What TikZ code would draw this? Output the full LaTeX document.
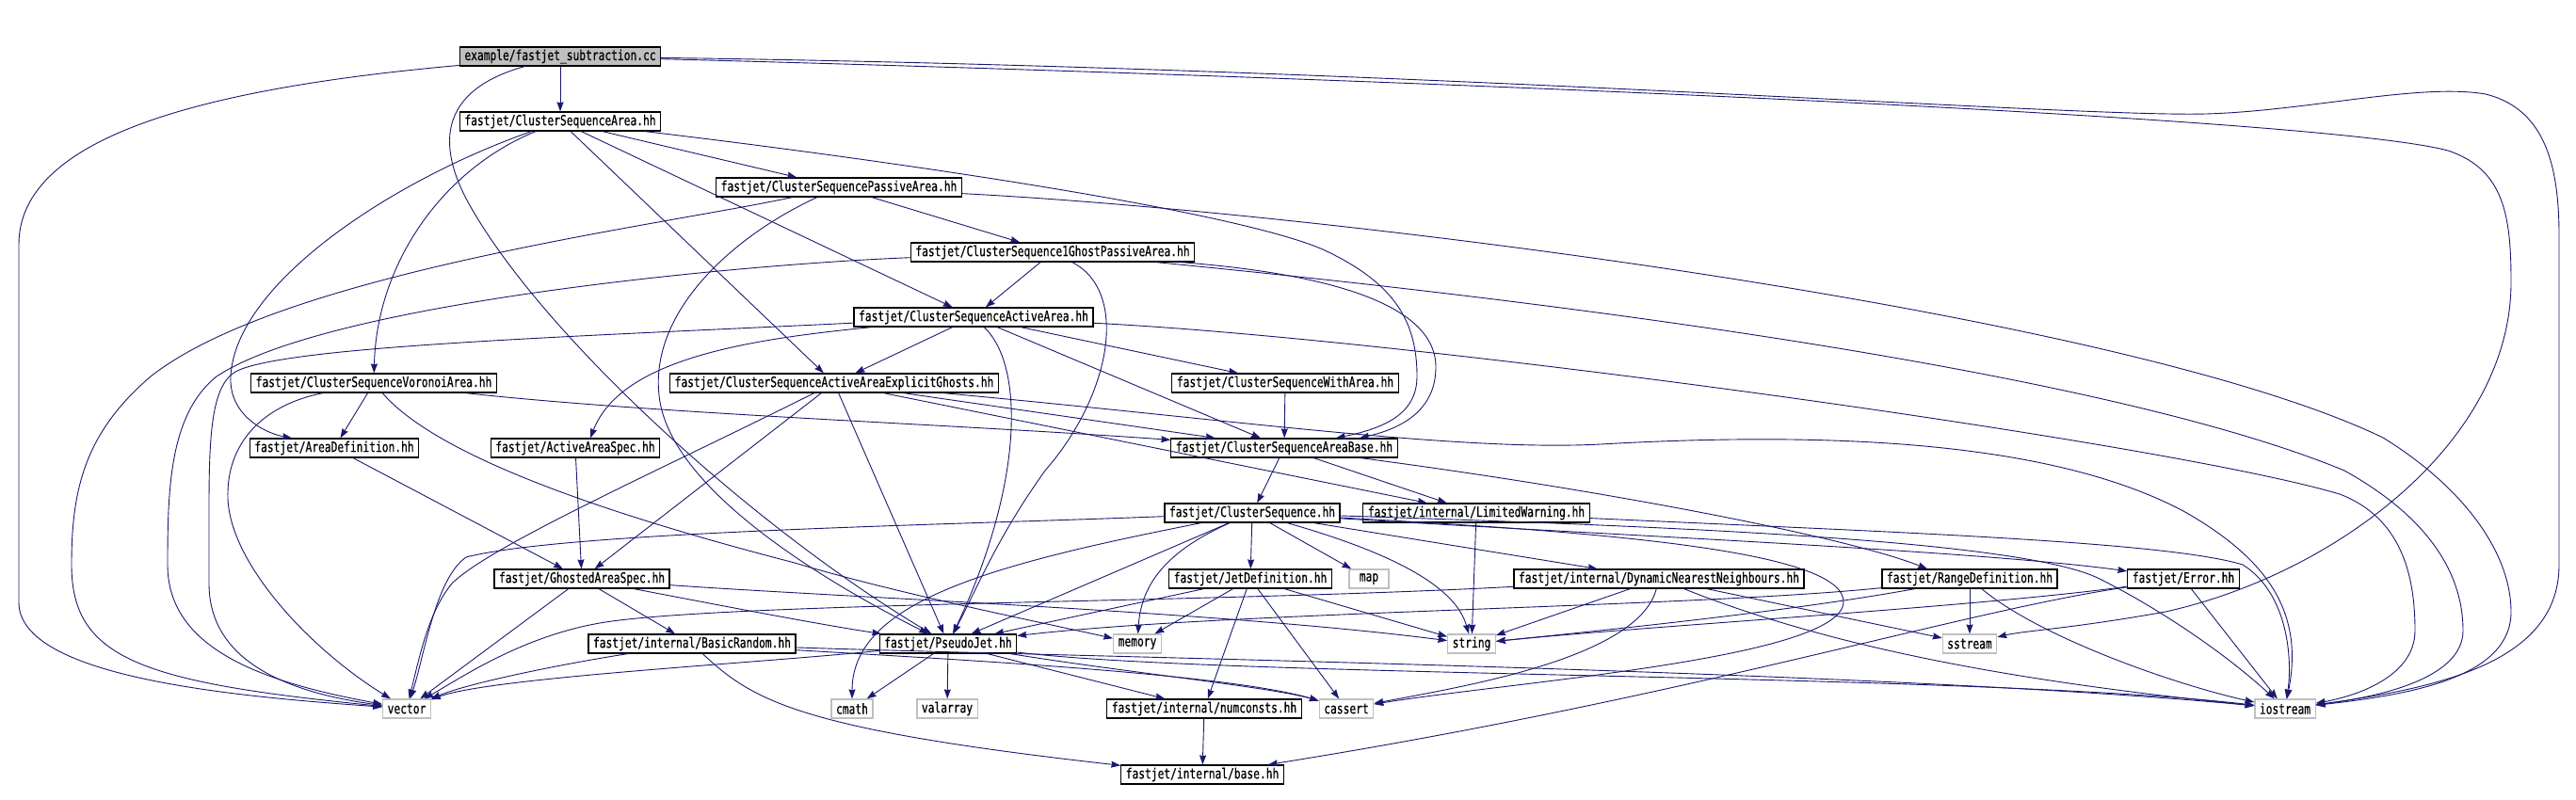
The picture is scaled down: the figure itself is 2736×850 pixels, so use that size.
\documentclass[tikz,border=0pt]{standalone}
\usepackage{fontspec}
\newfontfamily\doxfont[FakeStretch=0.75, FakeBold=0.6]{DejaVu Sans Mono}
\usetikzlibrary{arrows.meta}
\definecolor{edgeblue}{RGB}{25,25,112}
\definecolor{sysgray}{RGB}{191,191,191}

\begin{document}
\begin{tikzpicture} [x=1pt, y=-1pt,
		% define styles
		basicnodestyle/.style={
			% The shape:
			rectangle,
			% The size:
			minimum height=20pt, inner xsep=5pt, inner ysep=0pt,
			% The border:
			draw=black, line width=1.2pt,
			% The filling:
			fill=white,
			% Font
			font=\doxfont\fontsize{15}{16}\selectfont
		},
		systemnodestyle/.style={
			basicnodestyle,
			% grey border for system headers
			draw=sysgray,
			minimum width=42pt
		},
		rootnodestyle/.style={
			basicnodestyle,
			% grey filling for the file itself
			fill=sysgray
		},
		arrow/.style={
			-{Stealth[length=10pt,width=7pt,inset=1pt]},
			% Thickness
			line width=0.9pt,
			% Color
			edgeblue
		}]
		% end of style definition

		\useasboundingbox (0,0) rectangle (2736,850);

		% draw nodes
		\node (iSubtraction) [rootnodestyle] at (595,60) {example/fastjet\textunderscore subtraction.cc};
		\node (iCSArea) [basicnodestyle] at (595,129) {fastjet/ClusterSequenceArea.hh};
		\node (iCSPassive) [basicnodestyle] at (891,199) {fastjet/ClusterSequencePassiveArea.hh};
		\node (iCS1Ghost) [basicnodestyle] at (1118,268) {fastjet/ClusterSequence1GhostPassiveArea.hh};
		\node (iCSActive) [basicnodestyle] at (1034,337) {fastjet/ClusterSequenceActiveArea.hh};
		\node (iCSVoronoi) [basicnodestyle] at (397,407) {fastjet/ClusterSequenceVoronoiArea.hh};
		\node (iCSExplicit) [basicnodestyle] at (886,407) {fastjet/ClusterSequenceActiveAreaExplicitGhosts.hh};
		\node (iCSWithArea) [basicnodestyle] at (1365,407) {fastjet/ClusterSequenceWithArea.hh};
		\node (iAreaDef) [basicnodestyle] at (355,476) {fastjet/AreaDefinition.hh};
		\node (iActiveSpec) [basicnodestyle] at (611,476) {fastjet/ActiveAreaSpec.hh};
		\node (iCSAreaBase) [basicnodestyle] at (1364,476) {fastjet/ClusterSequenceAreaBase.hh};
		\node (iCS) [basicnodestyle] at (1330,545) {fastjet/ClusterSequence.hh};
		\node (iLimited) [basicnodestyle] at (1568,545) {fastjet/internal/LimitedWarning.hh};
		\node (iGhosted) [basicnodestyle] at (618,615) {fastjet/GhostedAreaSpec.hh};
		\node (iJetDef) [basicnodestyle] at (1328,615) {fastjet/JetDefinition.hh};
		\node (iMap) [systemnodestyle] at (1454,615) {map};
		\node (iDynNN) [basicnodestyle] at (1762,615) {fastjet/internal/DynamicNearestNeighbours.hh};
		\node (iRangeDef) [basicnodestyle] at (2092,615) {fastjet/RangeDefinition.hh};
		\node (iError) [basicnodestyle] at (2319,615) {fastjet/Error.hh};
		\node (iRandom) [basicnodestyle] at (735,684) {fastjet/internal/BasicRandom.hh};
		\node (iPseudoJet) [basicnodestyle] at (1007,684) {fastjet/PseudoJet.hh};
		\node (iMemory) [systemnodestyle] at (1208,684) {memory};
		\node (iString) [systemnodestyle] at (1563,684) {string};
		\node (iSstream) [systemnodestyle] at (2092,684) {sstream};
		\node (iVector) [systemnodestyle] at (432,753) {vector};
		\node (iCmath) [systemnodestyle] at (905,753) {cmath};
		\node (iValarray) [systemnodestyle] at (1006,753) {valarray};
		\node (iNumconsts) [basicnodestyle] at (1279,753) {fastjet/internal/numconsts.hh};
		\node (iCassert) [systemnodestyle] at (1430,753) {cassert};
		\node (iIostream) [systemnodestyle] at (2427,753) {iostream};
		\node (iBase) [basicnodestyle] at (1277,823) {fastjet/internal/base.hh};

		% connect nodes
		\draw [arrow] (iSubtraction) -- (iCSArea);
		\draw [arrow] (iSubtraction) .. controls (200,95) and (20,150) .. (20,260) -- (20,640) .. controls (20,720) and (250,740) .. (iVector);
		\draw [arrow] (iSubtraction) .. controls (470,95) and (460,150) .. (500,220) .. controls (580,360) and (800,560) .. (iPseudoJet);
		\draw [arrow] (iSubtraction) .. controls (1300,78) and (2450,120) .. (2600,160) .. controls (2660,180) and (2667,230) .. (2667,300) .. controls (2667,470) and (2480,610) .. (2300,650) .. controls (2200,668) and (2150,670) .. (iSstream);
		\draw [arrow] (iSubtraction) .. controls (1500,72) and (2200,125) .. (2343,121) .. controls (2450,118) and (2570,88) .. (2640,100) .. controls (2700,115) and (2718,170) .. (2718,250) -- (2718,600) .. controls (2718,700) and (2600,730) .. (iIostream);

		\draw [arrow] (iCSArea) -- (iCSPassive);
		\draw [arrow] (iCSArea) .. controls (470,180) and (400,280) .. (iCSVoronoi);
		\draw [arrow] (iCSArea) .. controls (420,190) and (250,300) .. (245,400) .. controls (243,440) and (280,460) .. ([xshift=-45pt]iAreaDef.north);
		\draw [arrow] (iCSArea) -- (iCSActive);
		\draw [arrow] (iCSArea) -- (iCSExplicit);
		\draw [arrow] (iCSArea) .. controls (900,165) and (1300,220) .. (1405,265) .. controls (1480,300) and (1505,340) .. (1505,400) .. controls (1505,440) and (1470,455) .. ([xshift=55pt]iCSAreaBase.north);

		\draw [arrow] (iCSPassive) -- (iCS1Ghost);
		\draw [arrow] (iCSPassive) .. controls (700,240) and (300,290) .. (160,400) .. controls (90,460) and (76,520) .. (76,600) .. controls (76,700) and (150,725) .. (iVector);
		\draw [arrow] (iCSPassive) .. controls (780,250) and (690,330) .. (700,420) .. controls (710,520) and (880,620) .. (iPseudoJet);
		\draw [arrow] (iCSPassive) .. controls (1400,225) and (2250,330) .. (2531,465) .. controls (2620,520) and (2667,590) .. (2667,650) .. controls (2667,720) and (2560,738) .. (iIostream);

		\draw [arrow] (iCS1Ghost) .. controls (800,280) and (350,320) .. (230,400) .. controls (180,440) and (178,520) .. (178,600) .. controls (178,690) and (280,725) .. (iVector);
		\draw [arrow] (iCS1Ghost) -- (iCSActive);
		\draw [arrow] (iCS1Ghost) .. controls (1200,310) and (1180,420) .. (1110,500) .. controls (1060,570) and (1040,620) .. (iPseudoJet);
		\draw [arrow] (iCS1Ghost) .. controls (1400,290) and (1525,320) .. (1525,390) .. controls (1525,435) and (1490,455) .. ([xshift=80pt]iCSAreaBase.north);
		\draw [arrow] (iCS1Ghost) .. controls (1500,305) and (2200,380) .. (2490,500) .. controls (2580,550) and (2616,610) .. (2616,670) .. controls (2616,720) and (2530,740) .. (iIostream);

		\draw [arrow] (iCSActive) .. controls (600,358) and (300,368) .. (250,395) .. controls (225,410) and (222,460) .. (222,540) -- (222,620) .. controls (222,700) and (300,735) .. (iVector);
		\draw [arrow] (iCSActive) .. controls (800,360) and (660,380) .. ([xshift=16pt]iActiveSpec.north);
		\draw [arrow] (iCSActive) -- (iCSExplicit);
		\draw [arrow] (iCSActive) .. controls (1090,390) and (1085,520) .. (iPseudoJet);
		\draw [arrow] (iCSActive) -- (iCSAreaBase);
		\draw [arrow] (iCSActive) -- (iCSWithArea);
		\draw [arrow] (iCSActive) .. controls (1500,360) and (2300,470) .. (2485,525) .. controls (2550,550) and (2565,610) .. (2565,670) .. controls (2565,720) and (2500,740) .. (iIostream);

		\draw [arrow] (iCSExplicit) .. controls (700,500) and (520,580) .. (480,620) .. controls (455,650) and (445,700) .. (iVector);
		\draw [arrow] (iCSExplicit) -- (iGhosted);
		\draw [arrow] (iCSExplicit) -- (iPseudoJet);
		\draw [arrow] (iCSExplicit) -- (iCSAreaBase);
		\draw [arrow] (iCSExplicit) -- (iLimited);
		\draw [arrow] (iCSExplicit) .. controls (1300,445) and (1550,480) .. (1700,472) .. controls (2000,455) and (2200,480) .. (2319,543) .. controls (2420,600) and (2445,660) .. (iIostream);

		\draw [arrow] (iCSVoronoi) .. controls (280,430) and (240,470) .. (242,530) .. controls (245,600) and (330,690) .. (iVector);
		\draw [arrow] (iCSVoronoi) -- (iAreaDef);
		\draw [arrow] (iCSVoronoi) .. controls (460,480) and (620,540) .. (844,598) .. controls (950,630) and (1100,660) .. (iMemory);
		\draw [arrow] (iCSVoronoi) .. controls (700,440) and (1000,450) .. (iCSAreaBase);

		\draw [arrow] (iAreaDef) -- (iGhosted);
		\draw [arrow] (iActiveSpec) -- (iGhosted);
		\draw [arrow] (iCSWithArea) -- (iCSAreaBase);

		\draw [arrow] (iCSAreaBase) -- (iCS);
		\draw [arrow] (iCSAreaBase) -- (iLimited);
		\draw [arrow] (iCSAreaBase) .. controls (1700,520) and (1960,570) .. ([xshift=-45pt]iRangeDef.north);

		\draw [arrow] (iCS) .. controls (1000,558) and (600,565) .. (495,592) .. controls (462,615) and (450,700) .. (iVector);
		\draw [arrow] (iCS) .. controls (1050,600) and (905,640) .. (iCmath);
		\draw [arrow] (iCS) -- (iPseudoJet);
		\draw [arrow] (iCS) .. controls (1240,585) and (1212,620) .. (iMemory);
		\draw [arrow] (iCS) -- (iJetDef);
		\draw [arrow] (iCS) -- (iMap);
		\draw [arrow] (iCS) .. controls (1470,585) and (1545,620) .. (iString);
		\draw [arrow] (iCS) -- (iDynNN);
		\draw [arrow] (iCS) .. controls (1700,565) and (1960,585) .. (1958,640) .. controls (1955,700) and (1600,725) .. (iCassert);
		\draw [arrow] (iCS) .. controls (1700,568) and (2100,585) .. (iError);
		\draw [arrow] (iCS) .. controls (1800,560) and (2150,575) .. (2230,615) .. controls (2300,650) and (2370,700) .. (iIostream);

		\draw [arrow] (iLimited) -- (iString);
		\draw [arrow] (iLimited) .. controls (2000,565) and (2300,575) .. (2382,600) .. controls (2430,630) and (2435,700) .. (iIostream);

		\draw [arrow] (iGhosted) -- (iVector);
		\draw [arrow] (iGhosted) -- (iRandom);
		\draw [arrow] (iGhosted) .. controls (800,650) and (880,665) .. (iPseudoJet);
		\draw [arrow] (iGhosted) .. controls (900,635) and (1300,650) .. (iString);

		\draw [arrow] (iRandom) .. controls (600,705) and (500,725) .. (iVector);
		\draw [arrow] (iRandom) .. controls (800,745) and (850,775) .. (iBase);
		\draw [arrow] (iRandom) .. controls (1000,700) and (1300,715) .. (iCassert);
		\draw [arrow] (iRandom) .. controls (1100,697) and (2000,712) .. (iIostream);

		\draw [arrow] (iJetDef) -- (iPseudoJet);
		\draw [arrow] (iJetDef) -- (iMemory);
		\draw [arrow] (iJetDef) -- (iNumconsts);
		\draw [arrow] (iJetDef) -- (iCassert);
		\draw [arrow] (iJetDef) -- (iString);

		\draw [arrow] (iDynNN) .. controls (1300,640) and (800,640) .. (650,660) .. controls (560,672) and (490,720) .. (iVector);
		\draw [arrow] (iDynNN) -- (iString);
		\draw [arrow] (iDynNN) -- (iSstream);
		\draw [arrow] (iDynNN) .. controls (1950,690) and (2150,725) .. (iIostream);
		\draw [arrow] (iDynNN) .. controls (1740,700) and (1550,730) .. (iCassert);

		\draw [arrow] (iRangeDef) .. controls (1800,645) and (1300,650) .. (iPseudoJet);
		\draw [arrow] (iRangeDef) .. controls (1900,650) and (1700,670) .. (iString);
		\draw [arrow] (iRangeDef) -- (iSstream);
		\draw [arrow] (iRangeDef) .. controls (2170,680) and (2320,730) .. (iIostream);

		\draw [arrow] (iError) .. controls (2100,645) and (1750,665) .. (iString);
		\draw [arrow] (iError) -- (iIostream);
		\draw [arrow] (iError) .. controls (2080,650) and (1800,740) .. ([xshift=70pt]iBase.north);

		\draw [arrow] (iPseudoJet) .. controls (800,705) and (520,720) .. (iVector);
		\draw [arrow] (iPseudoJet) -- (iCmath);
		\draw [arrow] (iPseudoJet) -- (iValarray);
		\draw [arrow] (iPseudoJet) -- (iNumconsts);
		\draw [arrow] (iPseudoJet) .. controls (1200,715) and (1350,730) .. (iCassert);
		\draw [arrow] (iPseudoJet) .. controls (1300,720) and (2100,715) .. (iIostream);

		\draw [arrow] (iNumconsts) -- (iBase);
	\end{tikzpicture}
\end{document}
